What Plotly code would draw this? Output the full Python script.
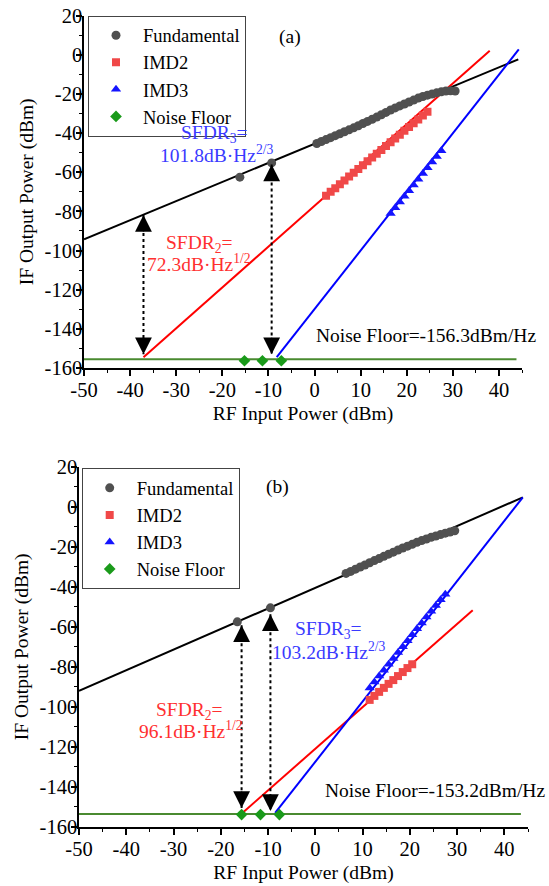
import plotly.graph_objects as go

# ---------------- Panel (a) data ----------------
fund_a_x = [-16.2, -9.3, 0.5, 1.5, 2.5, 3.5, 4.5, 5.5, 6.5, 7.5, 8.5, 9.5, 10.5, 11.5, 12.5,
            13.5, 14.5, 15.5, 16.5, 17.5, 18.5, 19.5, 20.5, 21.5, 22.5, 23.5, 24.5, 25.5,
            26.5, 27.5, 28.5, 29.5, 30.5]
fund_a_y = [-62.5, -55.2, -45.3, -44.3, -43.3, -42.3, -41.3, -40.3, -39.3, -38.3, -37.3, -36.2,
            -35.1, -34.0, -32.9, -31.8, -30.6, -29.4, -28.2, -27.1, -26.1, -25.1, -24.1, -23.1,
            -22.1, -21.3, -20.6, -20.0, -19.4, -18.9, -18.5, -18.4, -18.5]
imd2_a_x = [2.5, 3.5, 4.5, 5.5, 6.5, 7.5, 8.5, 9.5, 10.5, 11.5, 12.5, 13.5, 14.5, 15.5, 16.5,
            17.5, 18.5, 19.5, 20.5, 21.5, 22.5, 23.5, 24.5]
imd2_a_y = [-72.0, -70.0, -68.1, -66.1, -64.2, -62.2, -60.3, -58.3, -56.4, -54.4, -52.5, -50.5,
            -48.6, -46.6, -44.7, -42.7, -40.8, -38.8, -36.9, -34.9, -33.0, -31.0, -29.1]
imd3_a_x = [16.5, 17.5, 18.5, 19.5, 20.5, 21.5, 22.5, 23.5, 24.5, 25.5, 26.5, 27.5]
imd3_a_y = [-81.0, -78.1, -75.2, -72.3, -69.4, -66.5, -63.6, -60.6, -57.7, -54.8, -51.9, -49.0]
noise_a_x = [-15.2, -11.3, -7.2]
noise_a_y = [-156.3, -156.3, -156.3]
fitfund_a_x, fitfund_a_y = [-50, 44.2], [-94.2, -2.3]
fitimd2_a_x, fitimd2_a_y = [-37.1, 38.0], [-154.5, 2.1]
fitimd3_a_x, fitimd3_a_y = [-8.2, 44.3], [-154.5, 2.8]
floor_a_x, floor_a_y = [-50, 43.8], [-155.5, -155.5]
arrow_a_x = [-37.1, -9.3]
arrow_a_top = [-81.8, -56.0]
arrow_a_bot = [-153.0, -153.0]

# ---------------- Panel (b) data ----------------
fund_b_x = [-16.5, -9.5, 6.5, 7.5, 8.5, 9.5, 10.5, 11.5, 12.5, 13.5, 14.5, 15.5, 16.5, 17.5,
            18.5, 19.5, 20.5, 21.5, 22.5, 23.5, 24.5, 25.5, 26.5, 27.5, 28.5, 29.5]
fund_b_y = [-57.5, -50.5, -33.3, -32.3, -31.2, -30.1, -29.1, -28.0, -26.9, -25.9, -24.8, -23.7,
            -22.7, -21.6, -20.6, -19.7, -18.8, -17.8, -16.9, -16.1, -15.3, -14.6, -13.9, -13.2,
            -12.6, -12.0]
imd2_b_x = [11.5, 12.5, 13.5, 14.5, 15.5, 16.5, 17.5, 18.5, 19.5, 20.5]
imd2_b_y = [-96.5, -94.5, -92.5, -90.5, -88.5, -86.6, -84.6, -82.6, -80.6, -78.7]
imd3_b_x = [11.5, 12.5, 13.5, 14.5, 15.5, 16.5, 17.5, 18.5, 19.5, 20.5, 21.5, 22.5, 23.5, 24.5,
            25.5, 26.5, 27.5]
imd3_b_y = [-90.5, -87.6, -84.6, -81.7, -78.7, -75.8, -72.8, -69.9, -66.9, -64.0, -61.0, -58.1,
            -55.1, -52.2, -49.3, -46.5, -43.7]
noise_b_x = [-15.6, -11.6, -7.6]
noise_b_y = [-153.8, -153.8, -153.8]
fitfund_b_x, fitfund_b_y = [-50, 43.9], [-92.0, 4.7]
fitimd2_b_x, fitimd2_b_y = [-15.2, 33.3], [-152.5, -51.7]
fitimd3_b_x, fitimd3_b_y = [-8.5, 43.9], [-153.0, 4.7]
floor_b_x, floor_b_y = [-50, 43.5], [-153.5, -153.5]
arrow_b_x = [-15.6, -9.5]
arrow_b_top = [-59.2, -53.7]
arrow_b_bot = [-150.5, -152.0]

# ---------------- axes ticks ----------------
x_tickvals = [-50, -40, -30, -20, -10, 0, 10, 20, 30, 40]
x_ticktext = ["-50", "-40", "-30", "-20", "-10", "0", "10", "20", "30", "40"]
y_tickvals = [-160, -140, -120, -100, -80, -60, -40, -20, 0, 20]
y_ticktext = ["-160", "-140", "-120", "-100", "-80", "-60", "-40", "-20", "0", "20"]

series_names = ["Fundamental", "IMD2", "IMD3", "Noise Floor"]

FONT = "Liberation Serif"
FS = 19.5
TFS = 20.5
C_FUND = "#505050"
C_IMD2 = "#f04848"
C_IMD3 = "#1414ff"
C_NOISE = "#1a9a1a"
C_FLOOR = "#4a8a30"

fig = go.Figure()


def add_panel(xr, yr, leg, d):
    # fit lines
    fig.add_trace(go.Scatter(x=d["fitfund"][0], y=d["fitfund"][1], mode="lines",
                             line=dict(color="black", width=2), showlegend=False,
                             xaxis=xr, yaxis=yr, hoverinfo="skip"))
    fig.add_trace(go.Scatter(x=d["fitimd2"][0], y=d["fitimd2"][1], mode="lines",
                             line=dict(color="#ff0000", width=2), showlegend=False,
                             xaxis=xr, yaxis=yr, hoverinfo="skip"))
    fig.add_trace(go.Scatter(x=d["fitimd3"][0], y=d["fitimd3"][1], mode="lines",
                             line=dict(color="#0000ff", width=2), showlegend=False,
                             xaxis=xr, yaxis=yr, hoverinfo="skip"))
    fig.add_trace(go.Scatter(x=d["floor"][0], y=d["floor"][1], mode="lines",
                             line=dict(color=C_FLOOR, width=2), showlegend=False,
                             xaxis=xr, yaxis=yr, hoverinfo="skip"))
    # data markers
    fig.add_trace(go.Scatter(x=d["fund"][0], y=d["fund"][1], mode="markers", name=series_names[0],
                             marker=dict(symbol="circle", size=9, color=C_FUND),
                             xaxis=xr, yaxis=yr, legend=leg))
    fig.add_trace(go.Scatter(x=d["imd2"][0], y=d["imd2"][1], mode="markers", name=series_names[1],
                             marker=dict(symbol="square", size=8, color=C_IMD2),
                             xaxis=xr, yaxis=yr, legend=leg))
    fig.add_trace(go.Scatter(x=d["imd3"][0], y=d["imd3"][1], mode="markers", name=series_names[2],
                             marker=dict(symbol="triangle-up", size=9, color=C_IMD3),
                             xaxis=xr, yaxis=yr, legend=leg))
    fig.add_trace(go.Scatter(x=d["noise"][0], y=d["noise"][1], mode="markers", name=series_names[3],
                             marker=dict(symbol="diamond", size=9, color=C_NOISE),
                             xaxis=xr, yaxis=yr, legend=leg))
    # dotted double arrows
    for ax_, top, bot in zip(d["arrow"][0], d["arrow"][1], d["arrow"][2]):
        fig.add_trace(go.Scatter(x=[ax_, ax_], y=[top, bot], mode="lines",
                                 line=dict(color="black", width=2, dash="dot"),
                                 showlegend=False, xaxis=xr, yaxis=yr, hoverinfo="skip"))
        for tip, off in ((top, 18), (bot, -18)):
            fig.add_annotation(x=ax_, y=tip, xref=xr, yref=yr, ax=0, ay=off, text="",
                               showarrow=True, arrowhead=2, arrowsize=2.4, arrowwidth=1.4,
                               arrowcolor="black")


add_panel("x", "y", "legend", dict(
    fitfund=(fitfund_a_x, fitfund_a_y), fitimd2=(fitimd2_a_x, fitimd2_a_y),
    fitimd3=(fitimd3_a_x, fitimd3_a_y), floor=(floor_a_x, floor_a_y),
    fund=(fund_a_x, fund_a_y), imd2=(imd2_a_x, imd2_a_y), imd3=(imd3_a_x, imd3_a_y),
    noise=(noise_a_x, noise_a_y), arrow=(arrow_a_x, arrow_a_top, arrow_a_bot)))
add_panel("x2", "y2", "legend2", dict(
    fitfund=(fitfund_b_x, fitfund_b_y), fitimd2=(fitimd2_b_x, fitimd2_b_y),
    fitimd3=(fitimd3_b_x, fitimd3_b_y), floor=(floor_b_x, floor_b_y),
    fund=(fund_b_x, fund_b_y), imd2=(imd2_b_x, imd2_b_y), imd3=(imd3_b_x, imd3_b_y),
    noise=(noise_b_x, noise_b_y), arrow=(arrow_b_x, arrow_b_top, arrow_b_bot)))

# text annotations
texts = [
    ("x", "y", -5.4, 9.3, "(a)", "black"),
    ("x", "y", -21.8, -40.4, "SFDR<sub>3</sub>=", "#3a3aff"),
    ("x", "y", -21.2, -50.5, "101.8dB·Hz<sup>2/3</sup>", "#3a3aff"),
    ("x", "y", -25.0, -96.8, "SFDR<sub>2</sub>=", "#ff3030"),
    ("x", "y", -25.1, -106.6, "72.3dB·Hz<sup>1/2</sup>", "#ff3030"),
    ("x", "y", 24.1, -143.6, "Noise Floor=-156.3dBm/Hz", "black"),
    ("x2", "y2", -8.0, 10.0, "(b)", "black"),
    ("x2", "y2", 2.7, -61.7, "SFDR<sub>3</sub>=", "#3a3aff"),
    ("x2", "y2", 2.8, -72.1, "103.2dB·Hz<sup>2/3</sup>", "#3a3aff"),
    ("x2", "y2", -26.6, -102.0, "SFDR<sub>2</sub>=", "#ff3030"),
    ("x2", "y2", -26.3, -111.3, "96.1dB·Hz<sup>1/2</sup>", "#ff3030"),
    ("x2", "y2", 25.3, -141.7, "Noise Floor=-153.2dBm/Hz", "black"),
]
for xr, yr, x, y, t, c in texts:
    fig.add_annotation(x=x, y=y, xref=xr, yref=yr, text=t, showarrow=False,
                       font=dict(family=FONT, size=FS, color=c))

W, H = 549, 886


def xaxis_cfg(left, right, anchor):
    return dict(domain=[left / W, right / W], range=[-50, 45], anchor=anchor,
                tickvals=x_tickvals, ticktext=x_ticktext,
                showline=True, linecolor="black", linewidth=1.5, mirror=False,
                ticks="outside", ticklen=6, tickwidth=1.5, tickcolor="black",
                ticklabelstandoff=-3,
                minor=dict(dtick=5, tick0=0, ticks="outside", ticklen=3, tickwidth=1.2,
                           tickcolor="black"),
                showgrid=False, zeroline=False,
                tickfont=dict(family=FONT, size=TFS, color="black"),
                title=dict(text="RF Input Power (dBm)", standoff=6,
                           font=dict(family=FONT, size=FS, color="black")),
                automargin=False)


def yaxis_cfg(top, bottom, anchor):
    return dict(domain=[1 - bottom / H, 1 - top / H], range=[-160, 20], anchor=anchor,
                tickvals=y_tickvals, ticktext=y_ticktext,
                showline=True, linecolor="black", linewidth=1.5, mirror=False,
                ticks="outside", ticklen=6, tickwidth=1.5, tickcolor="black",
                ticklabelstandoff=-10,
                minor=dict(dtick=10, tick0=0, ticks="outside", ticklen=3, tickwidth=1.2,
                           tickcolor="black"),
                showgrid=False, zeroline=False,
                tickfont=dict(family=FONT, size=TFS, color="black"),
                title=dict(text="IF Output Power (dBm)", standoff=6,
                           font=dict(family=FONT, size=FS, color="black")),
                automargin=False)


leg_common = dict(xanchor="left", yanchor="top", bgcolor="white", bordercolor="#444",
                  borderwidth=1, font=dict(family=FONT, size=18.5, color="black"),
                  itemsizing="trace", itemwidth=44, tracegroupgap=0)

fig.update_layout(
    width=W, height=H,
    margin=dict(l=0, r=0, t=0, b=0),
    paper_bgcolor="white", plot_bgcolor="white",
    xaxis=xaxis_cfg(84, 522, "y"),
    yaxis=yaxis_cfg(15.7, 368, "x"),
    xaxis2=xaxis_cfg(79, 528, "y2"),
    yaxis2=yaxis_cfg(466.7, 827, "x2"),
    legend=dict(x=88 / W, y=1 - 15.7 / H, **leg_common),
    legend2=dict(x=81.7 / W, y=1 - 468.3 / H, **leg_common),
    showlegend=True,
)

fig.write_html("out.html")
